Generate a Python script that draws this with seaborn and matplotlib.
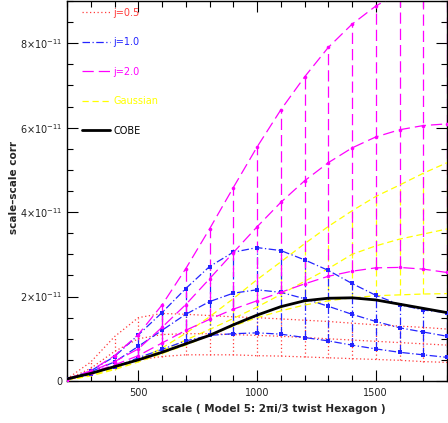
import numpy as np
import pandas as pd
import seaborn as sns
import matplotlib
matplotlib.use("Agg")
import matplotlib.pyplot as plt
from matplotlib.lines import Line2D
from matplotlib.ticker import MultipleLocator, FixedLocator, FuncFormatter

# ---------------- data (units of 1e-11) ----------------
scale = [200, 300, 400, 500, 600, 700, 800, 900, 1000, 1100, 1200, 1300, 1400, 1500, 1600, 1700, 1800]

j05_lo = [0.02, 0.15, 0.35, 0.50, 0.58, 0.62, 0.62, 0.62, 0.60, 0.59, 0.57, 0.55, 0.53, 0.51, 0.49, 0.46, 0.44]
j05_mid = [0.03, 0.30, 0.70, 1.00, 1.10, 1.12, 1.12, 1.10, 1.08, 1.06, 1.03, 1.00, 0.97, 0.94, 0.91, 0.88, 0.85]
j05_hi = [0.05, 0.45, 1.05, 1.50, 1.60, 1.58, 1.55, 1.52, 1.50, 1.47, 1.44, 1.41, 1.37, 1.33, 1.30, 1.27, 1.23]

j1_lo = [0.03, 0.17, 0.33, 0.55, 0.75, 0.95, 1.08, 1.12, 1.14, 1.11, 1.03, 0.95, 0.85, 0.76, 0.68, 0.62, 0.56]
j1_mid = [0.03, 0.22, 0.45, 0.82, 1.20, 1.58, 1.88, 2.08, 2.16, 2.10, 1.95, 1.77, 1.58, 1.41, 1.26, 1.16, 1.06]
j1_hi = [0.04, 0.24, 0.58, 1.09, 1.62, 2.19, 2.71, 3.05, 3.16, 3.09, 2.87, 2.62, 2.31, 2.03, 1.81, 1.68, 1.62]

j2_lo = [0.03, 0.20, 0.38, 0.60, 0.90, 1.20, 1.46, 1.70, 1.90, 2.10, 2.30, 2.48, 2.60, 2.68, 2.69, 2.65, 2.57]
j2_mid = [0.03, 0.23, 0.46, 0.76, 1.27, 1.81, 2.42, 3.04, 3.65, 4.23, 4.74, 5.17, 5.52, 5.78, 5.95, 6.05, 6.09]
j2_hi = [0.05, 0.24, 0.60, 1.10, 1.80, 2.66, 3.60, 4.58, 5.54, 6.42, 7.20, 7.90, 8.45, 8.88, 9.20, 9.45, 9.60]

gau_lo = [0.02, 0.12, 0.27, 0.45, 0.65, 0.85, 1.08, 1.30, 1.50, 1.66, 1.80, 1.90, 1.97, 2.02, 2.04, 2.06, 2.07]
gau_mid = [0.02, 0.14, 0.30, 0.50, 0.72, 0.97, 1.22, 1.48, 1.75, 2.05, 2.36, 2.66, 3.00, 3.20, 3.36, 3.48, 3.60]
gau_hi = [0.03, 0.15, 0.30, 0.50, 0.78, 1.13, 1.52, 1.95, 2.40, 2.82, 3.25, 3.66, 4.03, 4.37, 4.64, 4.92, 5.17]

cobe = [0.05, 0.18, 0.34, 0.50, 0.68, 0.88, 1.08, 1.33, 1.56, 1.76, 1.90, 1.96, 1.97, 1.92, 1.82, 1.72, 1.62]

legend_labels = ["j=0.5", "j=1.0", "j=2.0", "Gaussian", "COBE"]
y_tick_values = [0, 2, 4, 6, 8]
x_tick_values = [500, 1000, 1500]

# ---------------- styling ----------------
RED = "#ff3a3a"
BLUE = "#2424ff"
MAG = "#ff00ff"
YEL = "#ffff00"
BLK = "#000000"
LS_RED = (0, (1, 2))
LS_BLUE = (0, (6, 2, 1, 2))
LS_MAG = (0, (9, 4))
LS_YEL = (0, (5, 3))

sns.set_style("ticks")
plt.rcParams["font.family"] = ["DejaVu Sans"]

fig = plt.figure(figsize=(4.48, 4.23), dpi=100)
ax = fig.add_axes([67 / 448, 1 - 381 / 423, 380 / 448, 380 / 423])

E = 1e-11
x = np.array(scale)

def arr(v):
    return np.array(v) * E

lw = 0.9
# error bars (vertical connectors)
groups = [
    (j05_lo, j05_hi, RED, LS_RED),
    (gau_lo, gau_hi, YEL, LS_YEL),
    (j1_lo, j1_hi, BLUE, LS_BLUE),
    (j2_lo, j2_hi, MAG, LS_MAG),
]
for lo, hi, c, ls in groups:
    ax.vlines(x, arr(lo), arr(hi), colors=c, linestyles=[ls], linewidth=lw, zorder=2)

# curves
for series, c, ls, mk, ms in [
    (j05_lo, RED, LS_RED, None, 0), (j05_mid, RED, LS_RED, None, 0), (j05_hi, RED, LS_RED, None, 0),
    (gau_lo, YEL, LS_YEL, None, 0), (gau_mid, YEL, LS_YEL, None, 0), (gau_hi, YEL, LS_YEL, None, 0),
    (j1_lo, BLUE, LS_BLUE, "s", 2.2), (j1_mid, BLUE, LS_BLUE, "s", 2.2), (j1_hi, BLUE, LS_BLUE, "s", 2.2),
    (j2_lo, MAG, LS_MAG, "o", 2.6), (j2_mid, MAG, LS_MAG, "o", 2.6), (j2_hi, MAG, LS_MAG, "o", 2.6),
]:
    kw = dict(x=x, y=arr(series), ax=ax, color=c, linestyle=ls, linewidth=lw, zorder=3)
    if mk:
        kw.update(marker=mk, markersize=ms, markeredgewidth=0, markerfacecolor=c)
    sns.lineplot(**kw)

sns.lineplot(x=x, y=arr(cobe), ax=ax, color=BLK, linewidth=2.0, zorder=4)

ax.set_xlim(200, 1800)
ax.set_ylim(0, 9 * E)

ax.xaxis.set_major_locator(FixedLocator(x_tick_values))
ax.xaxis.set_minor_locator(MultipleLocator(100))
ax.yaxis.set_major_locator(FixedLocator([v * E for v in y_tick_values]))
ax.yaxis.set_minor_locator(MultipleLocator(0.5 * E))

def yfmt(v, pos):
    n = round(v / E)
    if n == 0:
        return "0"
    return r"$%d{\times}10^{-11}$" % n

ax.yaxis.set_major_formatter(FuncFormatter(yfmt))
ax.tick_params(which="both", direction="in", top=True, right=True, colors="black",
               labelcolor="#222222", labelsize=7, width=0.8)
ax.tick_params(which="major", length=8)
ax.tick_params(which="minor", length=4)
ax.tick_params(axis="x", pad=5)
for s in ax.spines.values():
    s.set_linewidth(1.0)
    s.set_color("black")

ax.set_xlabel("scale ( Model 5: 2\u03c0i/3 twist Hexagon )", fontsize=7.5, fontweight="bold")
ax.set_ylabel("scale\u2013scale corr", fontsize=7.5, fontweight="bold")
ax.xaxis.set_label_coords(0.545, -0.06)
ax.yaxis.set_label_coords(-0.125, 0.51)

handles = [
    Line2D([], [], color=RED, linestyle=LS_RED, linewidth=lw),
    Line2D([], [], color=BLUE, linestyle=LS_BLUE, linewidth=lw),
    Line2D([], [], color=MAG, linestyle=LS_MAG, linewidth=lw),
    Line2D([], [], color=YEL, linestyle=LS_YEL, linewidth=lw),
    Line2D([], [], color=BLK, linewidth=2.0),
]
leg = ax.legend(handles, legend_labels, loc="upper left", bbox_to_anchor=(0.04, 0.982),
                frameon=False, fontsize=7, labelspacing=2.0, handlelength=2.9,
                handletextpad=0.3, borderpad=0, borderaxespad=0)
for t, c in zip(leg.get_texts(), [RED, BLUE, MAG, YEL, BLK]):
    t.set_color(c)

fig.savefig("out.png", dpi=100)
